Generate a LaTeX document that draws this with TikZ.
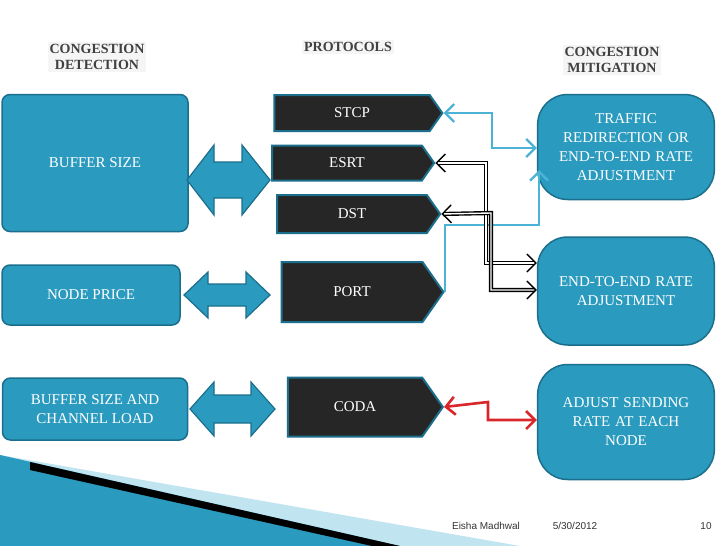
\documentclass[tikz,border=0pt]{standalone}
\usepackage{fontspec}
\setmainfont{Liberation Serif}
\newfontfamily\footfont{Liberation Sans}
\usetikzlibrary{shapes.symbols,arrows.meta}
\definecolor{teal}{HTML}{2A9BBF}
\definecolor{tealdk}{HTML}{1C6F8C}
\definecolor{lblue}{HTML}{4DB3D6}
\definecolor{dark}{HTML}{262626}
\definecolor{redc}{HTML}{D9262B}
\begin{document}
\begin{tikzpicture}[x=1pt,y=-1pt,
 txt/.style={font=\fontsize{15}{19}\selectfont},
 lbox/.style={txt,draw=tealdk,line width=1.5pt,fill=teal,rounded corners=8pt,text=white,align=center},
 rbox/.style={txt,draw=tealdk,line width=1.5pt,fill=teal,rounded corners=30pt,text=white,align=center,minimum width=176pt,text width=170pt},
 proto/.style={txt,shape=signal,signal to=east,signal pointer angle=110,draw=tealdk,line width=2pt,fill=dark,text=white,inner sep=0pt},
 dbl/.style={draw=tealdk,line width=1.2pt,fill=teal},
 hdr/.style={font=\bfseries\fontsize{14}{16}\selectfont,text=black!75,align=center,fill=gray!8,inner sep=2pt},
 >={Straight Barb[length=9pt,width=18pt]},
 bl/.style={draw=lblue,line width=2.4pt,<->},
 bk/.style={draw=black,double=white,double distance=1.4pt,line width=1.4pt,<->},
 rd/.style={draw=redc,line width=2.6pt,<->},
 foot/.style={font=\footfont\fontsize{10}{11}\selectfont,text=black!80}]
\useasboundingbox (0,0) rectangle (728,546);
\fill[white] (0,0) rectangle (728,546);
% swoosh
\fill[lblue!35] (0,455) -- (520,546) -- (0,546) -- cycle;
\fill[teal] (0,455) -- (400,546) -- (0,546) -- cycle;
\fill[black] (30,462) -- (400,546) -- (372,546) -- (30,470) -- cycle;
% headers
\node[hdr] (h1) at (97,57) {CONGESTION\\DETECTION};
\node[hdr] (h2) at (348,47) {PROTOCOLS};
\node[hdr] (h3) at (612,60) {CONGESTION\\MITIGATION};
% left boxes
\node[lbox,minimum width=186pt,minimum height=137pt] (bs) at (95,163) {BUFFER SIZE};
\node[lbox,minimum width=178pt,minimum height=60pt] (np) at (91,295) {NODE PRICE};
\node[lbox,minimum width=185pt,minimum height=62pt] (bc) at (95,409) {BUFFER SIZE AND\\CHANNEL LOAD};
% double arrows
\draw[dbl] (187,180) -- (214,145) -- (214,162) -- (242,162) -- (242,145) -- (270,180) -- (242,215) -- (242,198) -- (214,198) -- (214,215) -- cycle;
\draw[dbl] (184,295) -- (208,272) -- (208,284) -- (246,284) -- (246,272) -- (270,295) -- (246,318) -- (246,306) -- (208,306) -- (208,318) -- cycle;
\draw[dbl] (190,409) -- (214,382) -- (214,395) -- (251,395) -- (251,382) -- (275,409) -- (251,436) -- (251,423) -- (214,423) -- (214,436) -- cycle;
% protocols
\node[proto,minimum width=168pt,minimum height=36pt] (stcp) at (352,113) {STCP};
\node[proto,minimum width=162pt,minimum height=35pt] (esrt) at (347,163) {ESRT};
\node[proto,minimum width=163pt,minimum height=38pt] (dst) at (352,214) {DST};
\node[proto,minimum width=162pt,minimum height=60pt] (port) at (352,292) {PORT};
\node[proto,minimum width=155pt,minimum height=59pt] (coda) at (355,407) {CODA};
% right boxes
\node[rbox,minimum height=105pt] (tr) at (626,147) {TRAFFIC\\REDIRECTION OR\\END-TO-END RATE\\ADJUSTMENT};
\node[rbox,minimum height=108pt] (ee) at (626,291) {END-TO-END RATE\\ADJUSTMENT};
\node[rbox,minimum height=115pt] (as) at (626,422) {ADJUST SENDING\\RATE AT EACH\\NODE};
% connectors
\draw[bl] (stcp.east) -- (492,113) -- (492,148) -- (tr.west|-0,148);
\draw[draw=lblue,line width=2.4pt,->] (port.east) -- (port.east|-0,225) -- (539,225) -- (539,170);
\draw[bk] (esrt.east) -- (486,163) -- (486,263) -- (ee.west|-0,263);
\draw[bk] (dst.east) -- (491,213) -- (491,290) -- (ee.west|-0,290);
\draw[rd] (coda.east) -- (488,402) -- (488,420) -- (as.west|-0,420);
% footer
\node[foot] (f1) at (486,526) {Eisha Madhwal};
\node[foot] (f2) at (575,526) {5/30/2012};
\node[foot] (f3) at (706,526) {10};
\end{tikzpicture}
\end{document}
